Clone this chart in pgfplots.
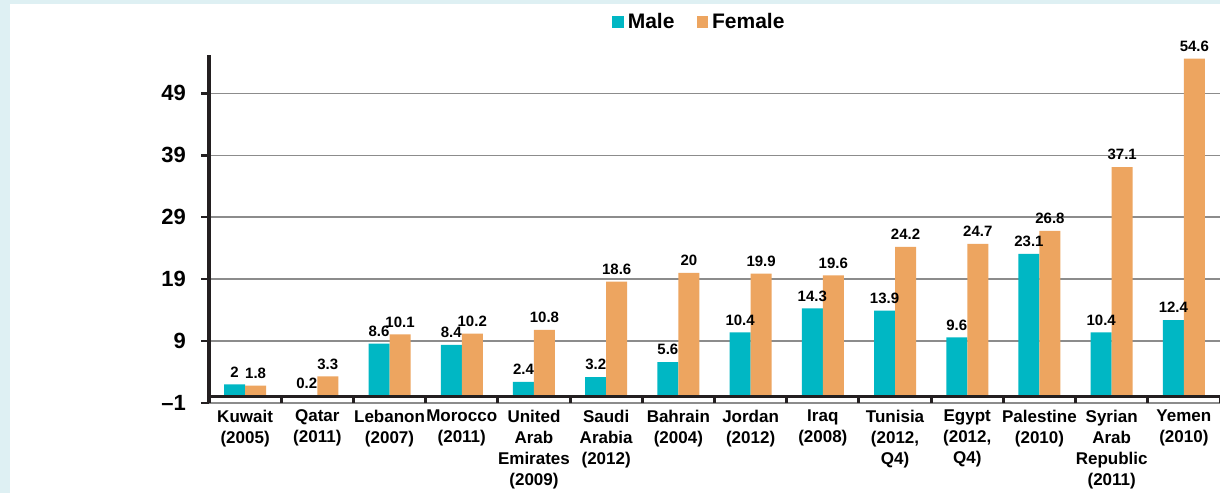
\documentclass[border=0pt]{standalone}
\usepackage{fontspec}
\setmainfont{Liberation Sans}
\usepackage{pgfplots}
\pgfplotsset{compat=1.18}
\definecolor{bgc}{RGB}{222,240,243}
\definecolor{teal1}{RGB}{0,183,196}
\definecolor{orng}{RGB}{237,165,96}
\definecolor{gridc}{RGB}{140,140,140}
\definecolor{dark}{RGB}{35,31,32}
\begin{document}
\begin{tikzpicture}[x=1pt,y=1pt]
\fill[bgc] (0,0) rectangle (610,-246.5);
\fill[white] (5,-2) rectangle (610,-246.5);
\begin{axis}[
  at={(104.5pt,-201.5pt)}, anchor=south west,
  scale only axis, width=505.5pt, height=174pt,
  ybar=0pt, bar width=10.5pt,
  xmin=-0.5, xmax=13.5, ymin=-1, ymax=55.2,
  clip=false,
  axis y line=left, axis x line*=bottom,
  x axis line style={draw=none},
  y axis line style={-, line width=2pt, color=dark},
  xtick={0,...,13},
  xticklabels={{Kuwait\\(2005)},{Qatar\\(2011)},{Lebanon\\(2007)},{Morocco\\(2011)},{United\\Arab\\Emirates\\(2009)},{Saudi\\Arabia\\(2012)},{Bahrain\\(2004)},{Jordan\\(2012)},{Iraq\\(2008)},{Tunisia\\(2012,\\Q4)},{Egypt\\(2012,\\Q4)},{Palestine\\(2010)},{Syrian\\Arab\\Republic\\(2011)},{Yemen\\(2010)}},
  xticklabel style={align=center, font=\bfseries\fontsize{8.5}{10.5}\selectfont, text=black},
  major x tick style={draw=none},
  minor xtick={-0.5,0.5,...,13.5},
  minor x tick style={line width=1.5pt, color=dark},
  minor tick length=3.5pt,
  xtick align=inside,
  ytick={-1,9,19,29,39,49},
  yticklabels={\textendash1,9,19,29,39,49},
  ytick align=outside,
  major y tick style={line width=1.2pt, color=dark},
  major tick length=4pt,
  yticklabel style={font=\bfseries\fontsize{11}{13}\selectfont, xshift=-4pt, text=black},
  ymajorgrids,
  major grid style={line width=0.8pt, color=gridc},
  /pgf/number format/assume math mode=true,
  nodes near coords,
  nodes near coords style={font=\bfseries\fontsize{7.5}{8.5}\selectfont, text=black},
  legend style={draw=none, fill=none, at={(axis description cs:0.486,1.095)}, anchor=center,
    legend columns=2, font=\bfseries\fontsize{10.5}{12}\selectfont,
    /tikz/every even column/.append style={column sep=9pt}},
]
\addplot[fill=teal1, draw=none, legend image code/.code={\fill[teal1] (0pt,-2.9pt) rectangle (5.8pt,2.9pt);}] coordinates {
(0,2) (1,0.2) (2,8.6) (3,8.4) (4,2.4) (5,3.2) (6,5.6) (7,10.4) (8,14.3) (9,13.9) (10,9.6) (11,23.1) (12,10.4) (13,12.4)};
\addplot[fill=orng, draw=none, legend image code/.code={\fill[orng] (0pt,-2.9pt) rectangle (5.8pt,2.9pt);}] coordinates {
(0,1.8) (1,3.3) (2,10.1) (3,10.2) (4,10.8) (5,18.6) (6,20) (7,19.9) (8,19.6) (9,24.2) (10,24.7) (11,26.8) (12,37.1) (13,54.6)};
\legend{Male,Female}
\draw[line width=1.6pt, color=dark] (axis cs:-0.5,0) -- (axis cs:13.5,0);
\end{axis}
\pgfresetboundingbox
\path[use as bounding box] (0,0) rectangle (610,-246.5);
\end{tikzpicture}
\end{document}
